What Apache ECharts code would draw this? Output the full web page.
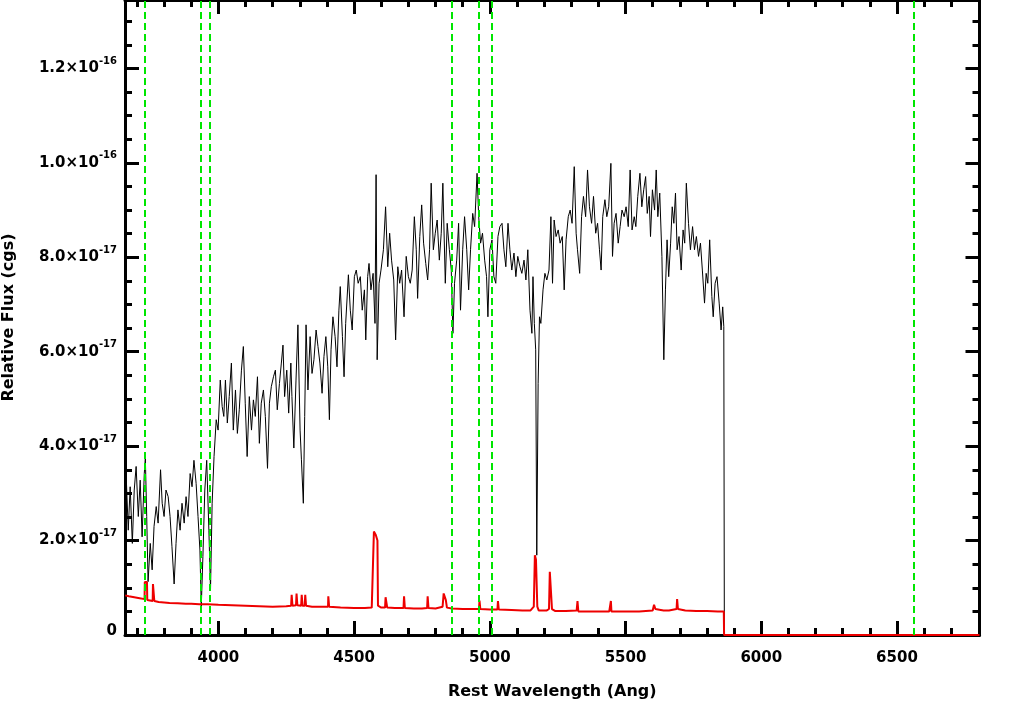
<!DOCTYPE html>
<html>
<head>
<meta charset="utf-8">
<script src="https://cdn.jsdelivr.net/npm/echarts@6/dist/echarts.min.js"></script>
<style>
html,body{margin:0;padding:0;background:#fff;}
#chart{width:1020px;height:706px;}
</style>
</head>
<body>
<div id="chart"></div>
<script>
// ---- data (flux in units of 1e-17 cgs) ----
const specWave = [3657,3661,3668,3675,3683,3690,3697,3705,3712,3719,3727,3731,3736,3741,3749,3756,3763,3771,3778,3787,3793,3800,3807,3815,3822,3829,3837,3844,3851,3859,3866,3874,3881,3888,3896,3903,3910,3918,3925,3932,3937,3943,3950,3957,3965,3971,3977,3984,3992,3999,4007,4014,
4020,4026,4033,4040,4048,4055,4063,4070,4077,4085,4092,4099,4106,4114,4122,4129,4136,4144,4151,4158,4166,4173,4181,4188,4195,4203,4210,4217,4225,4232,4238,4244,4252,4259,4267,4271,4278,4286,4293,4301,4306,4313,4318,4323,4330,4338,4345,4352,4360,4367,4374,4382,4389,4396,
4403,4409,4415,4422,4430,4437,4444,4449,4457,4463,4469,4479,4486,4493,4501,4508,4515,4523,4530,4538,4543,4550,4555,4562,4570,4577,4581,4585,4592,4599,4608,4616,4624,4631,4638,4646,4653,4661,4668,4675,4684,4692,4700,4707,4714,4722,4729,4734,4742,4749,4756,4764,4771,4778,
4784,4792,4799,4806,4814,4821,4827,4836,4843,4851,4858,4864,4870,4878,4885,4892,4900,4907,4915,4922,4929,4937,4944,4953,4959,4966,4973,4981,4988,4993,5000,5008,5015,5022,5030,5037,5045,5052,5059,5067,5074,5081,5089,5096,5103,5111,5118,5126,5133,5140,5148,5155,
5159,5164,5169,5173,5178,5183,5188,5196,5203,5210,5218,5225,5231,5237,5244,5252,5259,5267,5274,5281,5289,5296,5303,5311,5318,5323,5331,5338,5345,5353,5360,5367,5375,5382,5390,5397,5404,5410,5416,5424,5431,5438,5446,5452,5458,5465,5473,5480,5487,5495,5502,5510,5517,5524,5532,
5538,5545,5553,5560,5567,5574,5580,5587,5592,5599,5607,5613,5619,5626,5634,5641,5647,5653,5659,5666,5672,5678,5684,5690,5697,5705,5712,5718,5724,5732,5739,5747,5754,5761,5769,5776,5783,5791,5797,5803,5810,5818,5823,5830,5837,5845,5852,5858,5862,5864,6804];
const specFlux = [2.79,3.28,2.22,3.14,1.94,3.07,3.57,2.51,3.28,2.08,3.42,3.74,2.51,1.13,1.94,1.38,2.30,2.72,2.37,3.50,2.79,2.51,3.07,2.93,2.51,1.87,1.08,1.94,2.65,2.22,2.79,2.37,2.93,2.51,3.42,3.14,3.70,3.21,2.51,1.80,0.60,1.66,3.07,3.70,2.22,0.95,2.79,3.78,4.56,4.34,5.40,4.84,
4.63,5.40,4.49,5.05,5.76,4.34,5.19,4.27,4.77,5.61,6.11,4.91,3.78,5.05,4.34,4.98,4.63,5.47,4.06,4.91,5.19,4.63,3.53,4.91,5.26,5.47,5.61,4.77,5.33,5.76,6.14,5.05,5.61,4.70,5.76,5.05,3.96,5.40,6.57,4.34,3.71,2.79,4.63,6.57,5.19,6.32,5.54,5.83,6.46,6.11,5.76,5.12,5.90,6.32,
5.68,4.56,6.04,6.74,6.32,5.68,6.88,7.38,6.32,5.47,6.60,7.63,6.88,6.46,7.59,7.73,7.45,7.59,6.88,7.31,6.25,7.59,7.87,7.31,7.66,6.60,9.75,5.83,7.45,7.73,8.16,9.07,7.80,8.51,7.94,7.52,6.25,7.80,7.45,7.73,6.74,8.02,7.59,7.45,7.73,8.86,8.16,7.13,8.44,9.11,8.30,7.87,7.52,8.16,
9.57,8.16,8.51,8.79,7.94,8.51,9.57,7.45,8.72,8.16,7.73,6.39,7.45,7.94,8.72,6.88,8.16,8.86,8.16,7.31,8.16,8.93,8.65,9.78,8.86,8.30,8.51,7.94,7.59,6.74,8.16,8.37,7.59,7.45,8.44,8.65,8.72,8.16,7.80,8.72,8.16,7.73,8.09,7.59,8.02,7.80,7.66,7.94,7.52,8.16,6.88,6.39,
7.59,6.60,6.04,1.69,5.33,6.74,6.60,7.31,7.66,7.52,7.73,8.86,7.45,8.79,8.44,8.58,8.30,8.44,7.31,8.37,8.86,9.00,8.72,9.92,8.51,8.16,7.66,8.86,9.29,8.86,9.85,9.07,8.72,9.29,8.51,8.72,8.16,7.73,8.86,9.22,8.86,9.07,9.99,8.02,8.72,8.93,8.30,8.65,9.00,8.86,9.07,8.65,9.85,8.58,8.86,
8.65,9.29,9.78,9.07,9.43,9.71,8.93,9.29,8.44,9.43,9.00,9.85,8.86,9.36,8.02,5.83,7.31,8.37,7.59,8.30,9.07,8.72,9.36,8.16,8.44,7.73,8.58,8.30,9.57,8.72,8.16,8.65,8.16,8.44,8.02,8.30,7.73,7.03,7.66,7.45,8.37,7.17,6.74,7.45,7.59,7.03,6.46,6.95,6.53,0,0];

const errWave = [3657,3670,3690,3710,3728,3729,3737,3738,3758,3759,3763,3764,3780,3800,3820,3850,3880,3900,3930,3960,4000,4050,4100,4150,4200,4250,4268,4270,4273,4286,4288,4291,4305,4307,4310,4318,4320,4323,4330,4345,4360,4380,4404,4405,4408,4450,4500,4540,4565,4571,4573,4580,4586,4588,4600,4614,4616,4620,4622,4650,4682,4684,4687,4720,4750,4769,4771,4774,4800,4826,4830,4834,4838,4842,4860,4900,4940,4960,4962,4965,5000,5028,5030,5033,5080,5120,5150,5162,5166,5170,5175,5180,5210,5218,5221,5226,5229,5240,5280,5320,5323,5326,5360,5400,5440,5446,5448,5500,5550,5600,5605,5610,5640,5660,5688,5690,5693,5720,5760,5800,5840,5862,5863,6804];
const errFlux = [0.84,0.82,0.80,0.78,0.76,1.12,1.12,0.74,0.72,1.08,1.08,0.72,0.70,0.69,0.68,0.67,0.66,0.66,0.65,0.65,0.64,0.63,0.62,0.61,0.60,0.61,0.62,0.85,0.62,0.63,0.88,0.63,0.62,0.85,0.62,0.62,0.85,0.62,0.61,0.60,0.60,0.60,0.60,0.82,0.60,0.58,0.57,0.57,0.58,0.62,2.19,2.12,2.00,0.62,0.58,0.58,0.80,0.80,0.58,0.57,0.57,0.82,0.57,0.56,0.56,0.57,0.82,0.57,0.56,0.60,0.88,0.84,0.74,0.58,0.56,0.55,0.55,0.55,0.73,0.55,0.54,0.54,0.72,0.54,0.53,0.52,0.52,0.60,1.69,1.60,0.60,0.52,0.52,0.55,1.34,1.30,0.55,0.51,0.51,0.52,0.72,0.50,0.50,0.50,0.50,0.72,0.50,0.50,0.50,0.52,0.64,0.55,0.52,0.52,0.55,0.76,0.55,0.52,0.51,0.51,0.50,0.50,0,0];

const lineWaves = [3727, 3934, 3969, 4861, 4959, 5007, 6563];

const xMajorTicks = [4000, 4500, 5000, 5500, 6000, 6500];
const xMinorTicks = [3700,3800,3900,4000,4100,4200,4300,4400,4500,4600,4700,4800,4900,5000,5100,5200,5300,5400,5500,5600,5700,5800,5900,6000,6100,6200,6300,6400,6500,6600,6700];
const yMajorTicks = [0, 2, 4, 6, 8, 10, 12];
const yMantissa = ['0', '2.0', '4.0', '6.0', '8.0', '1.0', '1.2'];
const yExponent = ['', '-17', '-17', '-17', '-17', '-16', '-16'];
const yMinorTicks = [0.5,1,1.5,2,2.5,3,3.5,4,4.5,5,5.5,6,6.5,7,7.5,8,8.5,9,9.5,10,10.5,11,11.5,12,12.5,13];

const X_MIN = 3656, X_MAX = 6804, Y_MIN = 0, Y_MAX = 13.45;
const FONT = 'DejaVu Sans';

const pairs = (a, b) => a.map((v, i) => [v, b[i]]);

function xAxisDef(pos, ticks, len, withLabels, showLine) {
  return {
    type: 'value', min: X_MIN, max: X_MAX, position: pos,
    axisLine: { show: showLine, onZero: false, lineStyle: { color: '#000', width: 3 } },
    axisTick: { show: true, inside: true, length: len, customValues: ticks, lineStyle: { color: '#000', width: 3 } },
    axisLabel: withLabels ? {
      show: true, customValues: xMajorTicks, margin: 16, color: '#000',
      formatter: function (v) { return String(Math.round(v)); },
      fontFamily: FONT, fontWeight: 'bold', fontSize: 15
    } : { show: false },
    splitLine: { show: false }
  };
}
function yAxisDef(pos, ticks, len, withLabels, showLine) {
  return {
    type: 'value', min: Y_MIN, max: Y_MAX, position: pos,
    axisLine: { show: showLine, onZero: false, lineStyle: { color: '#000', width: 3 } },
    axisTick: { show: true, inside: true, length: len, customValues: ticks, lineStyle: { color: '#000', width: 3 } },
    axisLabel: withLabels ? {
      show: true, customValues: yMajorTicks, margin: 8, color: '#000',
      formatter: function (v) {
        const i = yMajorTicks.indexOf(v);
        if (i < 0) return '';
        if (!yExponent[i]) return '{z|' + yMantissa[i] + '}';
        return '{m|' + yMantissa[i] + '×10}{e|' + yExponent[i] + '}';
      },
      rich: {
        m: { fontFamily: FONT, fontWeight: 'bold', fontSize: 15, lineHeight: 24, color: '#000' },
        z: { fontFamily: FONT, fontWeight: 'bold', fontSize: 15, lineHeight: 24, color: '#000', padding: [0, 0, 8, 0] },
        e: { fontFamily: FONT, fontWeight: 'bold', fontSize: 10, lineHeight: 10, verticalAlign: 'top', color: '#000' }
      }
    } : { show: false },
    splitLine: { show: false }
  };
}

const xAxes = [
  xAxisDef('bottom', xMajorTicks, 14, true, true),
  xAxisDef('bottom', xMinorTicks, 7, false, false),
  xAxisDef('top', xMajorTicks, 14, false, true),
  xAxisDef('top', xMinorTicks, 7, false, false)
];
xAxes[0].name = 'Rest Wavelength (Ang)';
xAxes[0].nameLocation = 'middle';
xAxes[0].nameGap = 49;
xAxes[0].nameTextStyle = { fontFamily: FONT, fontWeight: 'bold', fontSize: 16, color: '#000' };

const yAxes = [
  yAxisDef('left', yMajorTicks, 14, true, true),
  yAxisDef('left', yMinorTicks, 7, false, false),
  yAxisDef('right', yMajorTicks, 14, false, true),
  yAxisDef('right', yMinorTicks, 7, false, false)
];
yAxes[0].name = 'Relative Flux (cgs)';
yAxes[0].nameLocation = 'middle';
yAxes[0].nameGap = 108;
yAxes[0].nameTextStyle = { fontFamily: FONT, fontWeight: 'bold', fontSize: 16, color: '#000' };

const chart = echarts.init(document.getElementById('chart'), null, { renderer: 'canvas' });
chart.setOption({
  animation: false,
  backgroundColor: '#fff',
  grid: { left: 125, right: 40.5, top: 0, bottom: 71, containLabel: false, outerBoundsMode: 'none' },
  xAxis: xAxes,
  yAxis: yAxes,
  series: [
    {
      type: 'line', xAxisIndex: 0, yAxisIndex: 0, data: pairs(specWave, specFlux),
      showSymbol: false, symbol: 'none', clip: false,
      lineStyle: { color: '#000', width: 1 }, z: 3
    },
    {
      type: 'line', xAxisIndex: 0, yAxisIndex: 0, data: pairs(errWave, errFlux),
      showSymbol: false, symbol: 'none', clip: false,
      lineStyle: { color: '#ee0000', width: 2 }, z: 4,
      markLine: {
        silent: true, symbol: ['none', 'none'], label: { show: false },
        lineStyle: { color: '#00e600', width: 2, type: [7, 4] },
        data: lineWaves.map(v => ({ xAxis: v }))
      }
    }
  ]
});
</script>
</body>
</html>
